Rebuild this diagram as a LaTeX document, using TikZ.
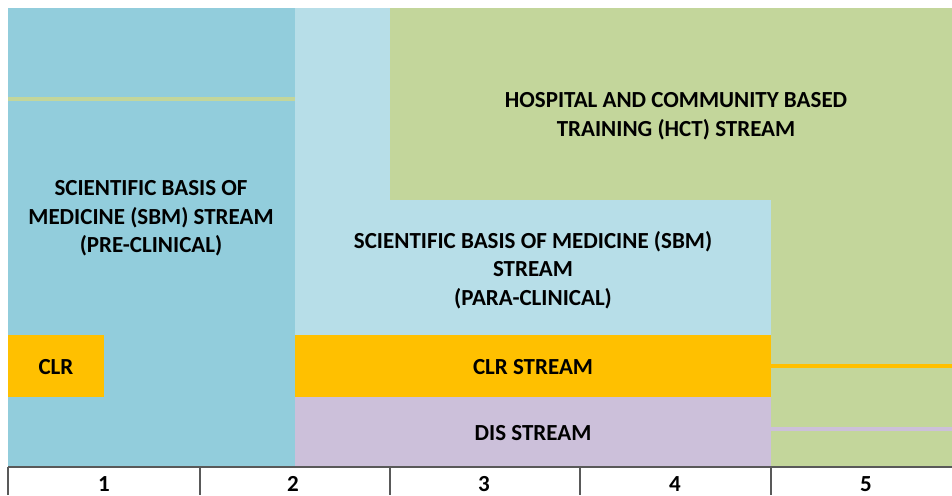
\documentclass[tikz,border=0pt]{standalone}
\usepackage{fontspec}
\setmainfont{Carlito}
\definecolor{sbmA}{HTML}{92CDDC}
\definecolor{sbmB}{HTML}{B7DEE8}
\definecolor{hct}{HTML}{C3D69B}
\definecolor{clr}{HTML}{FFC000}
\definecolor{dis}{HTML}{CCC0DA}
\definecolor{axis}{HTML}{595959}
\tikzset{
  lbl/.style={font=\fontsize{23}{28.5}\selectfont\bfseries, align=center, text=black, inner sep=0pt},
  num/.style={font=\fontsize{23}{24}\selectfont\bfseries, text=black, inner sep=0pt},
  axisline/.style={draw=axis, line width=1.3pt}
}
\begin{document}
\begin{tikzpicture}[x=1pt,y=-1pt]
\useasboundingbox (0,0) rectangle (952,495);
\fill[white] (0,0) rectangle (952,495);
% regions
\fill[sbmA] (8,8) rectangle (295,466);
\fill[hct] (8,97) rectangle (295,100.5);
\fill[sbmB] (295,8) rectangle (390,335);
\fill[sbmB] (295,200) rectangle (771,335);
\fill[hct] (390,8) rectangle (952,200);
\fill[hct] (771,200) rectangle (952,466);
\fill[clr] (8,335) rectangle (104,397);
\fill[clr] (295,335) rectangle (771,397);
\fill[dis] (295,397) rectangle (771,466);
\fill[clr] (771,364) rectangle (952,367.5);
\fill[dis] (771,427) rectangle (952,430.5);
% labels
\node[lbl] (pre) at (151,218.5) {SCIENTIFIC BASIS OF\\MEDICINE (SBM) STREAM\\(PRE-CLINICAL)};
\node[lbl] (hctl) at (676,116) {HOSPITAL AND COMMUNITY BASED\\TRAINING (HCT) STREAM};
\node[lbl] (para) at (533,270) {SCIENTIFIC BASIS OF MEDICINE (SBM)\\STREAM\\(PARA-CLINICAL)};
\node[lbl] (clr1) at (56,367) {CLR};
\node[lbl] (clrs) at (533,367) {CLR STREAM};
\node[lbl] (diss) at (533,433) {DIS STREAM};
% axis
\draw[axisline] (8,467) -- (952,467);
\foreach \x in {8,200,390,580,771} \draw[axisline] (\x,467) -- (\x,495);
\node[num] (n1) at (104,484) {1};
\node[num] (n2) at (293,484) {2};
\node[num] (n3) at (484,484) {3};
\node[num] (n4) at (675,484) {4};
\node[num] (n5) at (866,484) {5};
\end{tikzpicture}
\end{document}
